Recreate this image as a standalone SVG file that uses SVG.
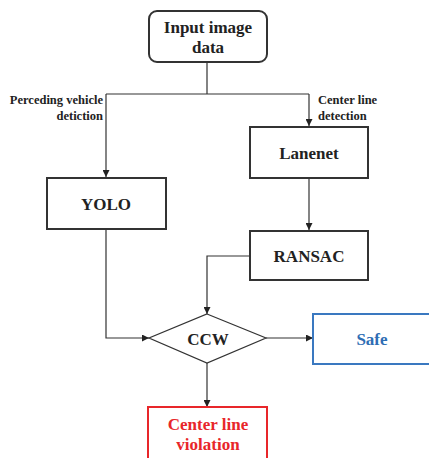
<svg xmlns="http://www.w3.org/2000/svg" width="429" height="458" viewBox="0 0 429 458">
<defs>
<marker id="ah" viewBox="0 0 10 10" refX="10" refY="5" markerWidth="7" markerHeight="7" orient="auto" markerUnits="userSpaceOnUse">
<path d="M0,0 L10,5 L0,10 z" fill="#222"/>
</marker>
</defs>
<style>
.box{fill:#fff;stroke:#333;stroke-width:2}
.t{font-family:"Liberation Serif","Times New Roman",serif;font-weight:bold;font-size:17px;fill:#222;text-anchor:middle}
.lbl{font-family:"Liberation Serif","Times New Roman",serif;font-weight:bold;font-size:12.5px;fill:#222}
.c{fill:none;stroke:#333;stroke-width:1.2}
</style>
<rect width="429" height="458" fill="#fff"/>
<g id="connectors">
<path class="c" d="M207,62 V94 M106,94 H309"/>
<path class="c" d="M106,94 V177" marker-end="url(#ah)"/>
<path class="c" d="M309,94 V126" marker-end="url(#ah)"/>
<path class="c" d="M309,178 V230" marker-end="url(#ah)"/>
<path class="c" d="M250,256 H207 V314" marker-end="url(#ah)"/>
<path class="c" d="M106,229 V338 H149" marker-end="url(#ah)"/>
<path class="c" d="M266,338 H313" marker-end="url(#ah)"/>
<path class="c" d="M207,363 V407" marker-end="url(#ah)"/>
</g>
<g id="labels">
<text class="lbl" x="103" y="104" text-anchor="end">Perceding vehicle</text>
<text class="lbl" x="103" y="120" text-anchor="end">detiction</text>
<text class="lbl" x="318" y="104">Center line</text>
<text class="lbl" x="318" y="120">detection</text>
</g>
<g id="input">
<rect class="box" x="149" y="11" width="118" height="51" rx="8"/>
<text class="t" x="208" y="33">Input image</text>
<text class="t" x="208" y="53">data</text>
</g>
<g id="yolo">
<rect class="box" x="47" y="178" width="119" height="51"/>
<text class="t" x="106" y="210">YOLO</text>
</g>
<g id="lanenet">
<rect class="box" x="250" y="127" width="118" height="51"/>
<text class="t" x="309" y="159">Lanenet</text>
</g>
<g id="ransac">
<rect class="box" x="250" y="231" width="118" height="49"/>
<text class="t" x="309" y="262">RANSAC</text>
</g>
<g id="ccw">
<polygon points="207,314 266,338 207,363 149,338" fill="#fff" stroke="#333" stroke-width="1.2"/>
<text class="t" x="208" y="345">CCW</text>
</g>
<g id="safe">
<rect x="313" y="314" width="120" height="50" fill="#fff" stroke="#3a78c0" stroke-width="2"/>
<text class="t" x="372" y="345" style="fill:#2e6db4">Safe</text>
</g>
<g id="violation">
<rect x="148" y="407" width="119" height="56" fill="#fff" stroke="#e8262a" stroke-width="2"/>
<text class="t" x="208" y="430" style="fill:#e8262a">Center line</text>
<text class="t" x="208" y="450" style="fill:#e8262a">violation</text>
</g>
</svg>
